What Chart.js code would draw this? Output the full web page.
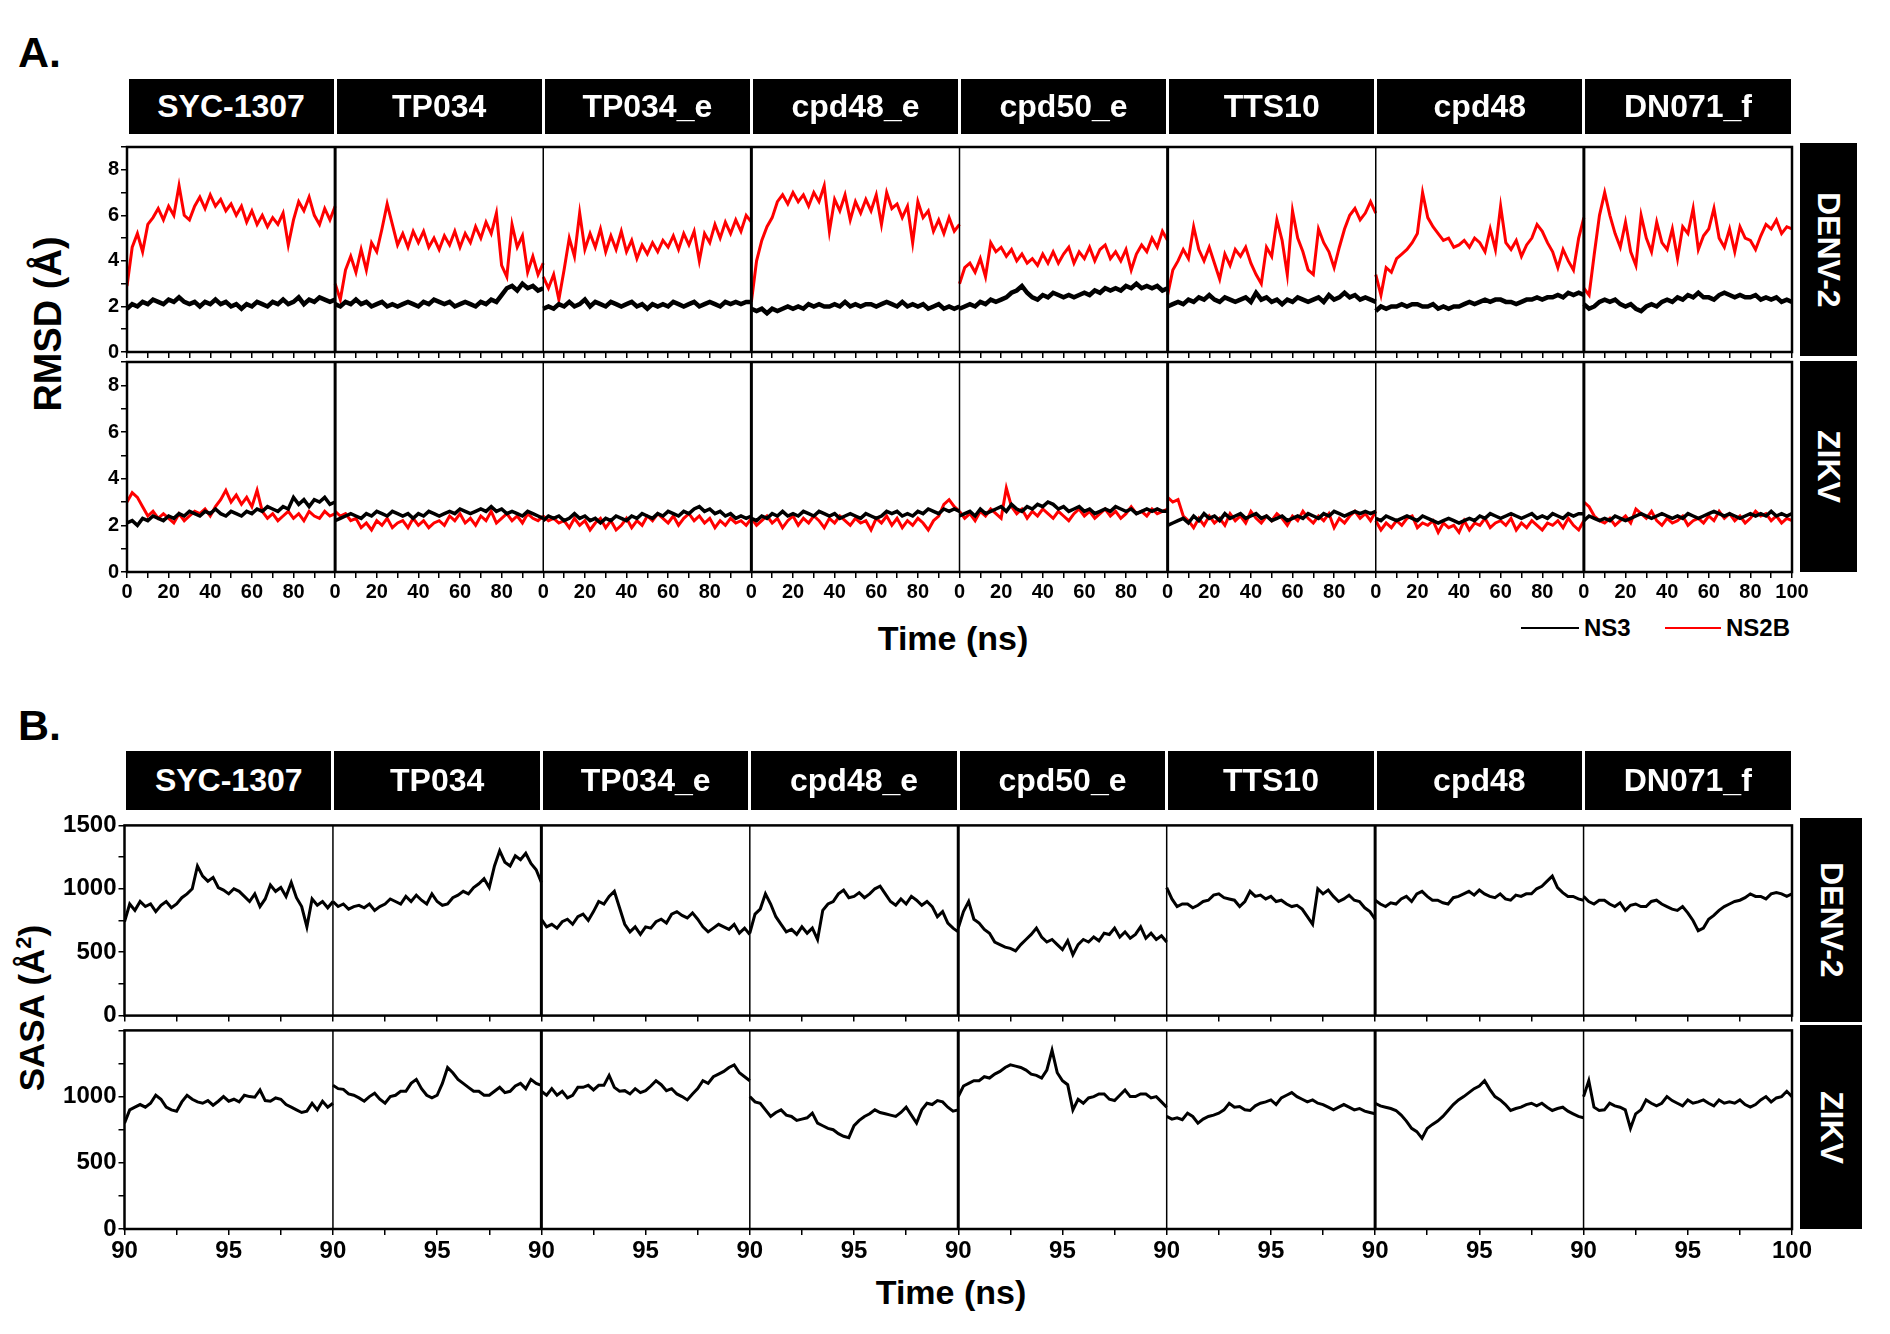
<!DOCTYPE html>
<html>
<head>
<meta charset="utf-8">
<script src="https://cdn.jsdelivr.net/npm/chart.js@4.4.1/dist/chart.umd.min.js"></script>
<style>
  body { margin: 0; background: #fff; }
  #page { position: relative; width: 1890px; height: 1334px; overflow: hidden; font-family: "Liberation Sans", Arial, sans-serif; font-weight: bold; color: #000; }
  canvas { position: absolute; left: 0; }
  .txt { position: absolute; line-height: 1; white-space: nowrap; }
  .hdr { position: absolute; background: #000; color: #fff; font-size: 32px; display: flex; align-items: center; justify-content: center; }
  .side { position: absolute; background: #000; color: #fff; font-size: 32px; writing-mode: vertical-rl; display: flex; align-items: center; justify-content: center; }
  .key { position: absolute; height: 2px; }
</style>
</head>
<body>
<div id="page">
  <div class="txt" style="left:18px; top:31px; font-size:43px;">A.</div>
  <div class="txt" style="left:18px; top:704px; font-size:43px;">B.</div>

  <div class="txt" style="left:48px; top:324px; font-size:38px; transform:translate(-50%,-50%) rotate(-90deg);">RMSD (Å)</div>
  <div class="txt" style="left:31px; top:1008px; font-size:35px; transform:translate(-50%,-50%) rotate(-90deg);">SASA (Å<sup style="font-size:22px; vertical-align:13px;">2</sup>)</div>

  <div class="txt" style="left:953px; top:621px; font-size:34px; transform:translateX(-50%);">Time (ns)</div>
  <div class="txt" style="left:951px; top:1275px; font-size:34px; transform:translateX(-50%);">Time (ns)</div>

  <div class="key" style="left:1521px; top:627px; width:58px; background:#000;"></div>
  <div class="txt" style="left:1584px; top:616px; font-size:24px;">NS3</div>
  <div class="key" style="left:1665px; top:627px; width:56px; background:#ff0000;"></div>
  <div class="txt" style="left:1726px; top:616px; font-size:24px;">NS2B</div>

  <canvas id="aDenv"></canvas>
  <canvas id="aZikv"></canvas>
  <canvas id="bDenv"></canvas>
  <canvas id="bZikv"></canvas>
</div>

<script>
// compounds, one column each
const compounds = ['SYC-1307', 'TP034', 'TP034_e', 'cpd48_e', 'cpd50_e', 'TTS10', 'cpd48', 'DN071_f'];
const viruses = ['DENV-2', 'ZIKV'];

// sample times (ns)
const timeA = [0, 2.5, 5, 7.5, 10, 12.5, 15, 17.5, 20, 22.5, 25, 27.5, 30, 32.5, 35, 37.5, 40, 42.5, 45, 47.5, 50,
  52.5, 55, 57.5, 60, 62.5, 65, 67.5, 70, 72.5, 75, 77.5, 80, 82.5, 85, 87.5, 90, 92.5, 95, 97.5, 100];
const timeB = [90, 90.25, 90.5, 90.75, 91, 91.25, 91.5, 91.75, 92, 92.25, 92.5, 92.75, 93, 93.25, 93.5, 93.75, 94,
  94.25, 94.5, 94.75, 95, 95.25, 95.5, 95.75, 96, 96.25, 96.5, 96.75, 97, 97.25, 97.5, 97.75, 98, 98.25, 98.5,
  98.75, 99, 99.25, 99.5, 99.75, 100];

// RMSD (Å), DENV-2, NS2B
const denvNS2B = [
  [2.9,4.6,5.2,4.4,5.6,5.9,6.3,5.8,6.4,6.0,7.3,6.0,5.8,6.4,6.8,6.3,6.9,6.4,6.7,6.2,6.5,6.0,6.4,5.7,6.2,5.6,6.0,5.5,5.9,5.6,6.1,4.7,5.8,6.6,6.2,6.8,6.0,5.6,6.3,5.8,6.4],
  [3.0,2.3,3.6,4.2,3.5,4.5,3.6,4.8,4.4,5.4,6.5,5.6,4.7,5.2,4.6,5.3,4.8,5.3,4.6,5.0,4.5,5.1,4.7,5.3,4.6,5.2,4.8,5.5,5.0,5.7,5.2,6.1,3.8,3.3,5.6,4.6,5.1,3.5,4.2,3.4,3.9],
  [3.3,2.8,3.4,2.3,3.6,5.0,4.2,6.1,4.5,5.2,4.6,5.4,4.4,5.1,4.5,5.3,4.4,4.9,4.1,4.7,4.3,4.8,4.4,4.9,4.6,5.1,4.5,5.2,4.7,5.3,4.0,5.2,4.8,5.6,5.0,5.7,5.2,5.8,5.3,6.0,5.7],
  [2.2,4.0,4.9,5.5,5.9,6.6,6.9,6.5,7.0,6.6,6.9,6.4,7.0,6.6,7.3,5.3,6.7,6.2,6.9,5.8,6.6,6.1,6.7,6.2,6.9,5.6,7.0,6.3,6.5,5.9,6.4,4.8,6.6,5.9,6.2,5.3,5.8,5.2,5.9,5.3,5.6],
  [3.0,3.7,3.9,3.5,4.1,3.3,4.8,4.4,4.6,4.2,4.5,4.0,4.3,3.9,4.1,3.8,4.3,3.9,4.4,3.9,4.3,4.6,3.9,4.4,4.1,4.6,4.0,4.5,4.7,4.1,4.4,4.0,4.5,3.6,4.3,4.7,4.4,5.0,4.6,5.3,4.9],
  [2.5,3.6,4.0,4.5,4.1,5.5,4.5,4.0,4.6,3.9,3.2,4.3,3.8,4.5,4.2,4.6,3.9,3.4,3.0,4.6,4.2,5.8,4.9,3.4,6.2,5.0,4.4,3.6,3.4,5.4,4.8,4.4,3.7,4.6,5.4,6.0,6.3,5.8,6.1,6.6,6.1],
  [3.4,2.5,3.7,3.5,4.1,4.3,4.5,4.8,5.2,7.0,5.9,5.5,5.2,4.9,5.0,4.6,4.7,4.9,4.6,5.0,4.8,4.4,5.4,4.5,6.4,4.8,4.5,4.9,4.2,4.7,5.0,5.6,5.3,4.8,4.4,3.7,4.5,4.0,3.6,5.0,5.9],
  [2.8,2.5,4.3,6.0,7.0,6.0,5.2,4.6,5.7,4.4,3.8,6.0,5.0,4.4,5.7,4.8,4.5,5.4,4.1,5.5,5.2,6.3,4.5,5.1,5.4,6.3,5.0,4.6,5.4,4.4,5.5,5.0,4.9,4.5,5.1,5.6,5.4,5.8,5.2,5.5,5.4]
];

// RMSD (Å), DENV-2, NS3
const denvNS3 = [
  [1.9,2.1,2.0,2.2,2.1,2.3,2.2,2.1,2.3,2.2,2.4,2.2,2.1,2.2,2.0,2.2,2.1,2.3,2.1,2.2,2.0,2.1,1.9,2.1,2.0,2.2,2.1,2.0,2.2,2.1,2.3,2.1,2.2,2.4,2.1,2.3,2.2,2.4,2.3,2.2,2.3],
  [2.1,2.0,2.2,2.1,2.3,2.1,2.2,2.0,2.1,2.2,2.0,2.1,2.0,2.1,2.2,2.1,2.0,2.2,2.1,2.3,2.2,2.1,2.2,2.0,2.1,2.2,2.1,2.0,2.2,2.1,2.3,2.2,2.5,2.8,2.9,2.7,3.0,2.8,2.9,2.7,2.8],
  [1.9,2.0,1.9,2.1,2.0,2.2,2.0,2.1,2.3,2.0,2.2,2.1,2.0,2.2,2.1,2.0,2.1,2.2,2.0,2.1,1.9,2.1,2.0,2.1,2.0,2.2,2.1,2.0,2.1,2.2,2.0,2.1,2.2,2.1,2.0,2.2,2.1,2.2,2.1,2.2,2.2],
  [1.9,1.8,1.9,1.7,1.9,1.8,1.9,2.0,1.9,2.0,1.9,2.1,2.0,2.1,2.0,2.0,2.1,2.0,2.2,2.0,2.1,2.0,2.1,2.1,2.0,2.1,2.2,2.1,2.0,2.2,2.0,2.1,2.0,2.1,1.9,2.0,2.1,1.9,2.0,1.9,2.0],
  [1.9,2.0,2.1,2.0,2.2,2.1,2.3,2.2,2.3,2.4,2.6,2.7,2.9,2.6,2.4,2.3,2.5,2.4,2.6,2.5,2.4,2.5,2.4,2.5,2.6,2.5,2.7,2.6,2.8,2.7,2.8,2.7,2.9,2.8,3.0,2.8,2.9,2.8,2.9,2.7,2.8],
  [2.0,2.1,2.2,2.1,2.3,2.2,2.4,2.3,2.5,2.3,2.2,2.4,2.3,2.2,2.3,2.4,2.2,2.6,2.3,2.4,2.2,2.3,2.1,2.3,2.2,2.4,2.3,2.2,2.3,2.4,2.2,2.5,2.3,2.4,2.6,2.4,2.5,2.3,2.4,2.3,2.2],
  [1.8,2.0,1.9,2.0,2.0,2.1,2.0,2.1,2.1,2.0,2.0,2.1,1.9,2.0,1.9,2.0,2.0,2.1,2.2,2.1,2.2,2.3,2.2,2.3,2.3,2.2,2.2,2.1,2.2,2.3,2.3,2.4,2.3,2.4,2.4,2.5,2.4,2.6,2.5,2.6,2.5],
  [2.1,1.9,2.0,2.2,2.3,2.2,2.3,2.1,2.0,2.1,1.9,1.8,2.0,2.1,2.0,2.2,2.3,2.2,2.4,2.3,2.5,2.4,2.6,2.4,2.4,2.3,2.5,2.6,2.5,2.4,2.5,2.4,2.4,2.5,2.3,2.4,2.3,2.4,2.2,2.3,2.2]
];

// RMSD (Å), ZIKV, NS2B
const zikvNS2B = [
  [3.0,3.4,3.2,2.8,2.4,2.6,2.3,2.5,2.3,2.1,2.5,2.2,2.4,2.6,2.5,2.7,2.4,2.8,3.1,3.5,3.0,3.3,2.9,3.2,2.8,3.5,2.6,2.3,2.5,2.2,2.4,2.6,2.3,2.5,2.2,2.6,2.4,2.3,2.6,2.4,2.5],
  [2.6,2.4,2.5,2.2,2.3,1.9,2.1,1.8,2.2,2.0,2.3,1.9,2.1,2.2,1.9,2.3,2.0,2.2,1.9,2.1,2.2,2.0,2.4,2.2,2.5,2.1,2.3,2.0,2.4,2.2,2.6,2.1,2.3,2.5,2.2,2.4,2.1,2.5,2.3,2.2,2.4],
  [2.4,2.2,2.3,2.1,2.2,1.9,2.3,2.0,2.2,1.8,2.1,2.3,1.9,2.2,1.8,2.0,2.3,1.9,2.2,2.0,2.4,2.2,2.5,2.3,2.1,2.4,2.0,2.3,2.5,2.2,2.4,2.1,2.3,1.9,2.2,2.0,2.3,2.1,2.2,2.0,2.3],
  [2.3,2.0,2.2,2.4,2.1,2.3,1.9,2.2,2.4,2.0,2.3,2.1,2.4,2.2,1.9,2.3,2.1,2.4,2.2,2.0,2.3,2.1,2.2,1.8,2.3,2.1,2.4,2.0,2.3,1.9,2.2,2.0,2.3,2.1,1.8,2.2,2.4,2.9,3.1,2.8,2.6],
  [2.6,2.3,2.5,2.2,2.6,2.4,2.7,2.5,2.3,3.6,2.8,2.5,2.7,2.3,2.6,2.4,2.7,2.5,2.3,2.6,2.4,2.2,2.5,2.7,2.4,2.6,2.3,2.5,2.7,2.4,2.6,2.3,2.5,2.8,2.5,2.6,2.4,2.7,2.5,2.6,2.7],
  [3.2,3.0,3.1,2.4,2.2,1.9,2.3,2.0,2.4,2.1,2.3,2.0,2.5,2.2,2.4,2.1,2.6,2.3,2.1,2.4,2.2,2.5,2.3,2.0,2.4,2.2,2.6,2.3,2.1,2.4,2.2,2.5,1.9,2.3,2.1,2.4,2.6,2.3,2.5,2.2,2.6],
  [2.2,1.8,2.1,1.9,2.2,2.0,2.3,2.4,1.9,2.1,2.0,2.2,1.7,2.1,1.9,2.0,1.7,2.2,1.8,2.1,2.0,2.3,1.9,2.1,2.2,2.0,2.3,1.8,2.1,1.9,2.2,2.0,1.8,2.1,2.0,2.2,1.9,2.3,2.0,1.8,2.2],
  [3.0,2.8,2.4,2.2,2.1,2.3,2.0,2.2,2.4,2.1,2.7,2.5,2.3,2.6,2.2,2.0,2.3,2.1,2.2,2.4,2.0,2.2,2.3,2.1,2.4,2.2,2.6,2.3,2.5,2.2,2.4,2.1,2.3,2.6,2.4,2.5,2.2,2.4,2.1,2.3,2.2]
];

// RMSD (Å), ZIKV, NS3
const zikvNS3 = [
  [2.1,2.2,2.0,2.3,2.2,2.4,2.3,2.2,2.4,2.3,2.5,2.4,2.6,2.5,2.4,2.6,2.5,2.7,2.5,2.4,2.6,2.5,2.4,2.6,2.5,2.7,2.6,2.8,2.7,2.6,2.8,2.7,3.2,2.9,3.1,2.8,3.1,3.0,3.2,2.9,3.0],
  [2.2,2.3,2.4,2.5,2.4,2.3,2.5,2.4,2.6,2.5,2.4,2.6,2.5,2.4,2.5,2.3,2.5,2.4,2.6,2.5,2.4,2.5,2.6,2.5,2.7,2.6,2.5,2.6,2.7,2.6,2.8,2.6,2.7,2.5,2.6,2.5,2.4,2.6,2.5,2.4,2.3],
  [2.2,2.4,2.3,2.4,2.2,2.3,2.5,2.3,2.4,2.2,2.3,2.1,2.3,2.2,2.4,2.3,2.2,2.4,2.3,2.5,2.4,2.3,2.5,2.4,2.6,2.5,2.4,2.6,2.5,2.7,2.8,2.6,2.7,2.5,2.6,2.4,2.5,2.3,2.4,2.3,2.4],
  [2.3,2.2,2.4,2.3,2.5,2.4,2.6,2.4,2.5,2.4,2.6,2.5,2.4,2.6,2.5,2.4,2.5,2.3,2.4,2.5,2.4,2.3,2.5,2.4,2.3,2.4,2.6,2.5,2.6,2.4,2.5,2.4,2.6,2.5,2.7,2.6,2.5,2.7,2.6,2.7,2.6],
  [2.4,2.5,2.6,2.4,2.7,2.5,2.6,2.7,2.8,2.6,2.9,2.7,2.6,2.8,2.7,2.9,2.8,3.0,2.9,2.7,2.8,2.6,2.7,2.8,2.6,2.7,2.5,2.6,2.7,2.6,2.8,2.7,2.6,2.7,2.5,2.6,2.7,2.6,2.7,2.6,2.6],
  [2.0,2.1,2.2,2.3,2.1,2.4,2.2,2.5,2.3,2.4,2.2,2.5,2.3,2.4,2.5,2.3,2.4,2.5,2.3,2.4,2.2,2.3,2.4,2.2,2.3,2.4,2.3,2.5,2.4,2.3,2.5,2.4,2.6,2.5,2.4,2.5,2.6,2.5,2.6,2.5,2.6],
  [2.3,2.2,2.4,2.3,2.2,2.3,2.4,2.3,2.2,2.4,2.3,2.2,2.1,2.2,2.3,2.2,2.1,2.2,2.3,2.2,2.4,2.3,2.5,2.4,2.3,2.4,2.5,2.4,2.3,2.4,2.5,2.3,2.4,2.3,2.5,2.4,2.3,2.5,2.4,2.5,2.5],
  [2.2,2.4,2.3,2.2,2.3,2.2,2.4,2.3,2.2,2.3,2.4,2.5,2.4,2.3,2.4,2.5,2.4,2.3,2.4,2.3,2.5,2.4,2.3,2.4,2.5,2.6,2.5,2.4,2.5,2.4,2.3,2.4,2.5,2.4,2.5,2.4,2.6,2.4,2.5,2.4,2.5]
];

// SASA (Å²), DENV-2
const denvSASA = [
  [740,880,830,900,860,880,820,870,900,850,880,930,960,1000,1180,1100,1060,1090,1010,990,960,1000,980,940,900,960,860,920,1030,980,1010,940,1050,930,860,700,920,870,900,850,900],
  [900,860,880,840,860,870,850,880,830,860,880,920,900,880,940,900,950,910,880,960,900,870,880,930,950,980,960,1010,1040,1080,1010,1180,1300,1210,1180,1260,1230,1280,1200,1150,1050],
  [760,700,720,690,740,760,720,780,800,750,820,900,880,940,980,850,720,660,700,640,700,690,740,760,730,800,820,790,770,810,760,700,660,690,720,700,680,720,650,690,640],
  [650,800,840,960,880,780,720,660,680,640,700,650,690,600,830,880,900,960,990,930,940,970,930,960,1000,1020,960,900,870,920,880,940,910,870,900,860,780,820,730,690,660],
  [690,820,900,760,730,680,650,580,560,540,530,510,560,600,640,690,620,580,600,560,520,590,480,560,600,580,620,590,650,640,690,620,660,610,640,700,610,650,600,630,580],
  [1010,920,860,880,880,850,870,900,910,950,960,930,920,910,860,900,980,940,950,920,940,900,910,880,860,870,840,780,720,1000,960,990,940,900,920,950,910,900,850,820,760],
  [910,880,860,890,880,920,940,900,960,980,940,910,910,890,880,930,940,960,980,950,990,960,940,930,960,920,910,950,940,960,960,1000,1020,1060,1100,1010,970,940,940,920,910],
  [940,900,880,910,910,880,860,890,830,870,880,860,860,900,910,880,860,840,830,860,810,750,670,690,760,790,830,860,880,900,910,930,960,940,940,920,960,970,960,940,960]
];

// SASA (Å²), ZIKV
const zikvSASA = [
  [800,900,920,940,920,950,1010,980,920,900,890,960,1010,980,960,950,970,935,965,1000,965,980,960,1010,1000,995,1050,970,965,990,980,940,920,900,880,890,950,900,965,920,950],
  [1085,1060,1055,1020,1010,990,965,1000,1025,980,950,1000,1010,1040,1040,1100,1130,1060,1010,990,1010,1100,1220,1180,1130,1100,1070,1040,1040,1010,1010,1040,1070,1030,1040,1080,1100,1060,1130,1100,1085],
  [1040,1010,1060,1010,1040,990,1010,1070,1070,1085,1050,1085,1085,1160,1070,1040,1045,1020,1060,1030,1045,1080,1120,1090,1045,1060,1020,1000,975,1020,1060,1120,1100,1150,1170,1190,1220,1240,1180,1150,1120],
  [1000,960,950,900,850,880,900,860,850,820,830,840,875,800,780,760,750,720,700,690,780,820,850,870,900,880,870,860,850,880,920,860,800,900,950,940,970,960,920,890,900],
  [1000,1080,1100,1120,1120,1150,1140,1170,1190,1220,1240,1230,1220,1200,1170,1160,1140,1200,1350,1180,1120,1090,900,980,950,990,1000,1020,1020,980,970,1010,1050,1000,1000,1020,1020,990,1000,960,920],
  [850,830,840,825,875,850,800,830,850,860,875,900,950,920,925,900,895,930,950,960,975,940,990,1010,1030,1000,980,960,975,950,940,920,900,920,940,920,900,910,890,880,870],
  [950,930,920,910,895,860,815,760,735,685,760,790,815,850,895,940,975,1000,1030,1060,1080,1120,1055,1000,975,940,895,910,920,940,950,930,950,920,895,910,920,890,870,850,840],
  [1000,1120,920,895,900,950,930,920,900,760,870,900,975,950,930,950,1000,970,950,930,975,950,960,975,950,930,975,950,960,950,975,940,920,940,975,1000,960,990,1000,1040,1000]
];

const font = 'Liberation Sans, Arial, sans-serif';

// black frame round the plot area plus the column separators
const frame = {
  id: 'frame',
  afterDatasetsDraw(chart, args, opts) {
    const { ctx, chartArea: a, scales: { x } } = chart;
    ctx.save();
    ctx.strokeStyle = '#000';
    opts.seps.forEach((w, i) => {
      const px = x.getPixelForValue((i + 1) * opts.span);
      ctx.lineWidth = w;
      ctx.beginPath();
      ctx.moveTo(px, a.top);
      ctx.lineTo(px, a.bottom);
      ctx.stroke();
    });
    ctx.lineWidth = 2.5;
    ctx.strokeRect(a.left, a.top, a.right - a.left, a.bottom - a.top);
    ctx.restore();
  }
};

function series(times, t0, span, rows, color, width) {
  return rows.map((vals, c) => ({
    data: times.map((t, i) => ({ x: c * span + t - t0, y: vals[i] })),
    borderColor: color,
    borderWidth: width,
    borderJoinStyle: 'miter',
    pointRadius: 0,
    tension: 0,
    fill: false
  }));
}

function makeRow(id, geo, datasets, ax) {
  const cv = document.getElementById(id);
  cv.width = geo.right + 40;
  cv.height = 10 + geo.bottom - geo.top + geo.axisH;
  cv.style.top = (geo.top - 10) + 'px';

  new Chart(cv, {
    type: 'line',
    data: { datasets: datasets },
    plugins: [frame],
    options: {
      responsive: false,
      animation: false,
      events: [],
      layout: { autoPadding: false, padding: { top: 10, right: 40, left: 0, bottom: 0 } },
      plugins: {
        legend: { display: false },
        tooltip: { enabled: false },
        frame: { seps: ax.seps, span: ax.span }
      },
      scales: {
        x: {
          type: 'linear',
          min: 0,
          max: ax.xMax,
          afterFit: (s) => { s.height = geo.axisH; },
          border: { display: false },
          grid: { drawOnChartArea: false, drawTicks: true, tickLength: 6, color: '#000', lineWidth: 1.5 },
          ticks: {
            stepSize: ax.xStep,
            maxTicksLimit: 1000,
            autoSkip: false,
            maxRotation: 0,
            padding: 2,
            color: '#000',
            font: { family: font, weight: 'bold', size: ax.fontSize },
            callback: ax.xLabel
          }
        },
        y: {
          min: 0,
          max: ax.yMax,
          afterFit: (s) => { s.width = geo.left; },
          border: { display: false },
          grid: { drawOnChartArea: false, drawTicks: true, tickLength: 6, color: '#000', lineWidth: 1.5 },
          ticks: {
            stepSize: ax.yStep,
            maxTicksLimit: 1000,
            autoSkip: false,
            padding: 2,
            color: '#000',
            font: { family: font, weight: 'bold', size: ax.fontSize },
            callback: ax.yLabel
          }
        }
      }
    }
  });
}

// header strips and side labels
function strip(top, height, left, right) {
  const page = document.getElementById('page');
  const w = (right - left) / compounds.length;
  compounds.forEach((name, c) => {
    const d = document.createElement('div');
    d.className = 'hdr';
    d.textContent = name;
    d.style.left = (left + c * w + 1.5) + 'px';
    d.style.width = (w - 3) + 'px';
    d.style.top = top + 'px';
    d.style.height = height + 'px';
    page.appendChild(d);
  });
}
function side(text, left, width, top, height) {
  const d = document.createElement('div');
  d.className = 'side';
  d.textContent = text;
  Object.assign(d.style, { left: left + 'px', width: width + 'px', top: top + 'px', height: height + 'px' });
  document.getElementById('page').appendChild(d);
}

strip(79, 55, 127, 1792);
strip(751, 59, 124.5, 1792);
side(viruses[0], 1800, 57, 143, 213);
side(viruses[1], 1800, 57, 361, 211);
side(viruses[0], 1800, 62, 818, 204);
side(viruses[1], 1800, 62, 1025, 204);

// panel A: RMSD, time 0-100 ns per column
const axA = {
  xMax: 800, xStep: 10, yMax: 9, yStep: 1, fontSize: 20, span: 100,
  seps: [3, 1.5, 3, 1.5, 3, 1.5, 3],
  yLabel: (v) => (v % 2 === 0 ? v : '')
};
makeRow('aDenv', { left: 127, right: 1792, top: 143, bottom: 358, axisH: 8 },
  series(timeA, 0, 100, denvNS3, '#000000', 4.5).concat(series(timeA, 0, 100, denvNS2B, '#ff0000', 3)),
  Object.assign({}, axA, { xLabel: () => '' }));
makeRow('aZikv', { left: 127, right: 1792, top: 358, bottom: 572, axisH: 40 },
  series(timeA, 0, 100, zikvNS3, '#000000', 3.5).concat(series(timeA, 0, 100, zikvNS2B, '#ff0000', 3)),
  Object.assign({}, axA, {
    xLabel: (v) => (v % 20 === 0 ? (v === 800 ? '100' : String(v % 100)) : '')
  }));

// panel B: SASA, time 90-100 ns per column
const axB = {
  xMax: 80, xStep: 2.5, yMax: 1500, yStep: 250, fontSize: 24, span: 10,
  seps: [1.5, 3, 1.5, 3, 1.5, 3, 1.5]
};
makeRow('bDenv', { left: 124.5, right: 1792, top: 819, bottom: 1024, axisH: 8 },
  series(timeB, 90, 10, denvSASA, '#000000', 3),
  Object.assign({}, axB, {
    xLabel: () => '',
    yLabel: (v) => (v % 500 === 0 ? v : '')
  }));
makeRow('bZikv', { left: 124.5, right: 1792, top: 1024, bottom: 1229, axisH: 45 },
  series(timeB, 90, 10, zikvSASA, '#000000', 3),
  Object.assign({}, axB, {
    xLabel: (v) => (Math.abs(v % 5) < 1e-6 ? (v === 80 ? '100' : String(90 + Math.round(v % 10))) : ''),
    yLabel: (v) => (v % 500 === 0 && v < 1500 ? v : '')
  }));
</script>
</body>
</html>
